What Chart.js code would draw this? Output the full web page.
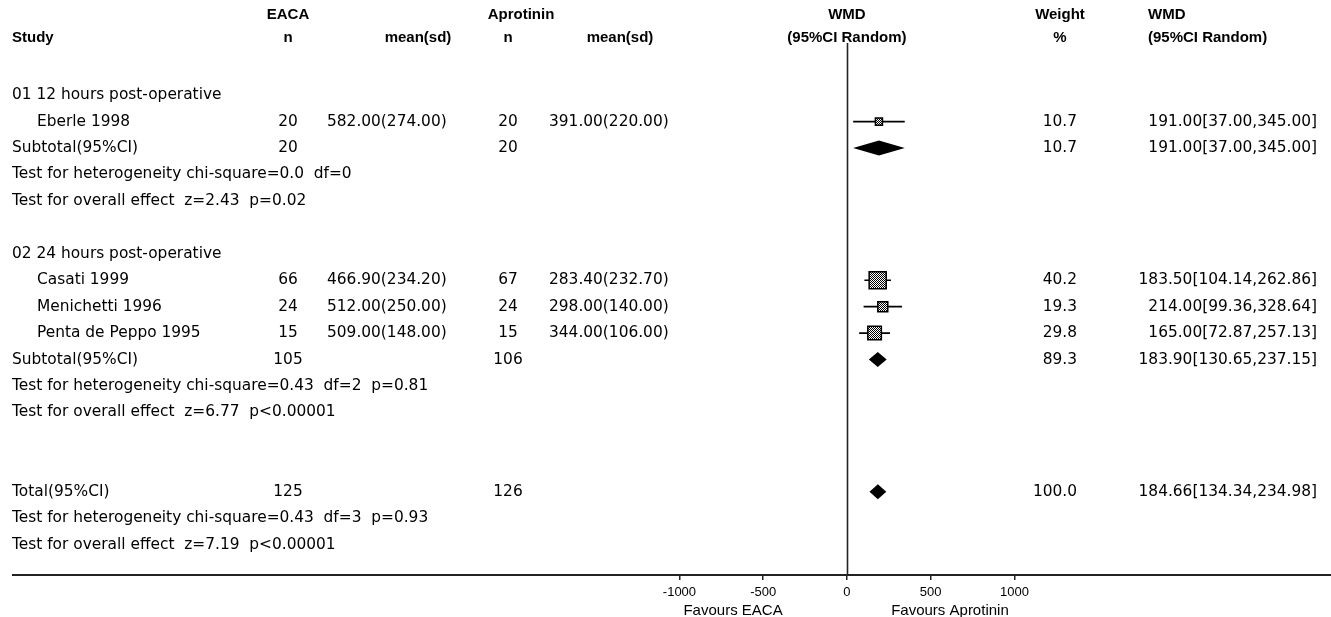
<!DOCTYPE html>
<html>
<head>
<meta charset="utf-8">
<script src="https://cdn.jsdelivr.net/npm/chart.js@4/dist/chart.umd.min.js"></script>
<style>
html,body{margin:0;padding:0;background:#fff;}
#wrap{width:1331px;height:617px;position:relative;}
</style>
</head>
<body>
<div id="wrap"><canvas id="c" width="1331" height="617"></canvas></div>
<script>
// ---------- DATA ----------
const rowKinds = ['group','study','subtotal','text','text','blank','group','study','study','study','subtotal','text','text','blank','blank','total','text','text'];
const rowLabels = [
  '01 12 hours post-operative',
  'Eberle 1998',
  'Subtotal(95%CI)',
  'Test for heterogeneity chi-square=0.0  df=0',
  'Test for overall effect  z=2.43  p=0.02',
  '',
  '02 24 hours post-operative',
  'Casati 1999',
  'Menichetti 1996',
  'Penta de Peppo 1995',
  'Subtotal(95%CI)',
  'Test for heterogeneity chi-square=0.43  df=2  p=0.81',
  'Test for overall effect  z=6.77  p<0.00001',
  '',
  '',
  'Total(95%CI)',
  'Test for heterogeneity chi-square=0.43  df=3  p=0.93',
  'Test for overall effect  z=7.19  p<0.00001'
];
const eacaN       = [null, 20, 20, null, null, null, null, 66, 24, 15, 105, null, null, null, null, 125, null, null];
const eacaMeanSd  = ['', '582.00(274.00)', '', '', '', '', '', '466.90(234.20)', '512.00(250.00)', '509.00(148.00)', '', '', '', '', '', '', '', ''];
const aproN       = [null, 20, 20, null, null, null, null, 67, 24, 15, 106, null, null, null, null, 126, null, null];
const aproMeanSd  = ['', '391.00(220.00)', '', '', '', '', '', '283.40(232.70)', '298.00(140.00)', '344.00(106.00)', '', '', '', '', '', '', '', ''];
const wmd         = [null, 191.00, 191.00, null, null, null, null, 183.50, 214.00, 165.00, 183.90, null, null, null, null, 184.66, null, null];
const ciLow       = [null, 37.00, 37.00, null, null, null, null, 104.14, 99.36, 72.87, 130.65, null, null, null, null, 134.34, null, null];
const ciHigh      = [null, 345.00, 345.00, null, null, null, null, 262.86, 328.64, 257.13, 237.15, null, null, null, null, 234.98, null, null];
const weightPct   = [null, 10.7, 10.7, null, null, null, null, 40.2, 19.3, 29.8, 89.3, null, null, null, null, 100.0, null, null];
const xTicks = [-1000, -500, 0, 500, 1000];
const favourLabels = ['Favours EACA', 'Favours Aprotinin'];

// ---------- helpers ----------
const FONT = '"DejaVu Sans", sans-serif';
const HFONT = '"Liberation Sans", Arial, sans-serif';
const fmt2 = v => v.toFixed(2);
const fmtW = v => v.toFixed(1);

// hatch pattern for study squares
const pc = document.createElement('canvas');
pc.width = 2; pc.height = 2;
const pctx = pc.getContext('2d');
pctx.fillStyle = '#fff'; pctx.fillRect(0,0,2,2);
pctx.fillStyle = '#000'; pctx.fillRect(0,0,1,1); pctx.fillRect(1,1,1,1);
const squarePattern = document.getElementById('c').getContext('2d').createPattern(pc, 'repeat');

// datasets
const squarePts = [], squareRadii = [], whiskerPts = [];
rowKinds.forEach((k, i) => {
  if (k === 'study') {
    squarePts.push({x: wmd[i], y: i});
    const side = 3.4 + 0.34 * weightPct[i];
    squareRadii.push(side / Math.SQRT2);
    whiskerPts.push({x: ciLow[i], y: i}, {x: ciHigh[i], y: i}, {x: ciHigh[i], y: null});
  }
});

const forestPlugin = {
  id: 'forest',
  beforeDatasetsDraw(chart) {
    const {ctx, scales:{x}, chartArea} = chart;
    const x0 = Math.round(x.getPixelForValue(0)) + 0.5;
    ctx.save();
    ctx.strokeStyle = '#222';
    ctx.lineWidth = 1.6;
    ctx.beginPath();
    ctx.moveTo(x0, 43);
    ctx.lineTo(x0, chartArea.bottom);
    ctx.stroke();
    ctx.restore();
  },
  afterDatasetsDraw(chart) {
    const {ctx, scales:{x, y}} = chart;
    ctx.save();
    ctx.fillStyle = '#000';
    rowKinds.forEach((k, i) => {
      if (k === 'subtotal' || k === 'total') {
        const yc = y.getPixelForValue(i);
        const xl = x.getPixelForValue(ciLow[i]);
        const xr = x.getPixelForValue(ciHigh[i]);
        const xm = x.getPixelForValue(wmd[i]);
        ctx.beginPath();
        ctx.moveTo(xl, yc);
        ctx.lineTo(xm, yc - 7.5);
        ctx.lineTo(xr, yc);
        ctx.lineTo(xm, yc + 7.5);
        ctx.closePath();
        ctx.fill();
      }
    });
    ctx.restore();
  },
  afterDraw(chart) {
    const {ctx, scales:{x, y}} = chart;
    ctx.save();
    ctx.fillStyle = '#000';
    ctx.textBaseline = 'middle';
    // headers
    ctx.font = 'bold 15px ' + HFONT;
    const h1 = 15, h2 = 38;
    const x0 = x.getPixelForValue(0);
    ctx.textAlign = 'left';
    ctx.fillText('Study', 12, h2);
    ctx.textAlign = 'center';
    ctx.fillText('EACA', 288, h1);
    ctx.fillText('n', 288, h2);
    ctx.fillText('mean(sd)', 418, h2);
    ctx.fillText('Aprotinin', 521, h1);
    ctx.fillText('n', 508, h2);
    ctx.fillText('mean(sd)', 620, h2);
    ctx.fillText('WMD', x0, h1);
    ctx.fillText('(95%CI Random)', x0, h2);
    ctx.fillText('Weight', 1060, h1);
    ctx.fillText('%', 1060, h2);
    ctx.textAlign = 'left';
    ctx.fillText('WMD', 1148, h1);
    ctx.fillText('(95%CI Random)', 1148, h2);

    // rows
    ctx.font = '15.4px ' + FONT;
    rowKinds.forEach((k, i) => {
      if (k === 'blank') return;
      const yc = y.getPixelForValue(i);
      ctx.textAlign = 'left';
      ctx.fillText(rowLabels[i], k === 'study' ? 37 : 12, yc);
      if (eacaN[i] !== null) { ctx.textAlign = 'center'; ctx.fillText(String(eacaN[i]), 288, yc); }
      if (aproN[i] !== null) { ctx.textAlign = 'center'; ctx.fillText(String(aproN[i]), 508, yc); }
      if (eacaMeanSd[i]) { ctx.textAlign = 'left'; ctx.fillText(eacaMeanSd[i], 327, yc); }
      if (aproMeanSd[i]) { ctx.textAlign = 'left'; ctx.fillText(aproMeanSd[i], 549, yc); }
      if (weightPct[i] !== null) { ctx.textAlign = 'right'; ctx.fillText(fmtW(weightPct[i]), 1077, yc); }
      if (wmd[i] !== null) {
        ctx.textAlign = 'right';
        ctx.fillText(fmt2(wmd[i]) + '[' + fmt2(ciLow[i]) + ',' + fmt2(ciHigh[i]) + ']', 1317, yc);
      }
    });

    // favours labels
    ctx.font = '15px ' + HFONT;
    ctx.textAlign = 'center';
    ctx.fillText(favourLabels[0], x.getPixelForValue(-680), 611);
    ctx.fillText(favourLabels[1], x.getPixelForValue(615), 611);
    ctx.restore();
  }
};

new Chart(document.getElementById('c'), {
  type: 'scatter',
  data: {
    datasets: [
      {
        type: 'line',
        data: whiskerPts,
        borderColor: '#000',
        borderWidth: 1.7,
        pointRadius: 0,
        spanGaps: false,
        fill: false,
        order: 2
      },
      {
        type: 'scatter',
        data: squarePts,
        pointStyle: 'rect',
        pointRadius: squareRadii,
        pointBackgroundColor: squarePattern,
        pointBorderColor: '#000',
        pointBorderWidth: 1.5,
        order: 1
      }
    ]
  },
  options: {
    responsive: false,
    animation: false,
    devicePixelRatio: 1,
    layout: { autoPadding: false, padding: { left: 13, right: 0, top: 0, bottom: 0 } },
    plugins: { legend: { display: false }, tooltip: { enabled: false } },
    scales: {
      x: {
        type: 'linear',
        min: -4979,
        max: 2890,
        afterBuildTicks: (axis) => { axis.ticks = xTicks.map(v => ({ value: v })); },
        afterFit: (scale) => { scale.height = 42; },
        grid: { display: true, drawOnChartArea: false, drawTicks: true, tickLength: 5, color: '#222', lineWidth: 1.5 },
        border: { display: true, color: '#222', width: 2 },
        ticks: {
          autoSkip: false,
          maxRotation: 0,
          padding: 5,
          color: '#000',
          font: { family: HFONT, size: 13 },
          callback: (v) => String(v)
        }
      },
      y: {
        type: 'linear',
        display: false,
        reverse: true,
        min: -3.6,
        max: 18.15
      }
    }
  },
  plugins: [forestPlugin]
});
</script>
</body>
</html>
